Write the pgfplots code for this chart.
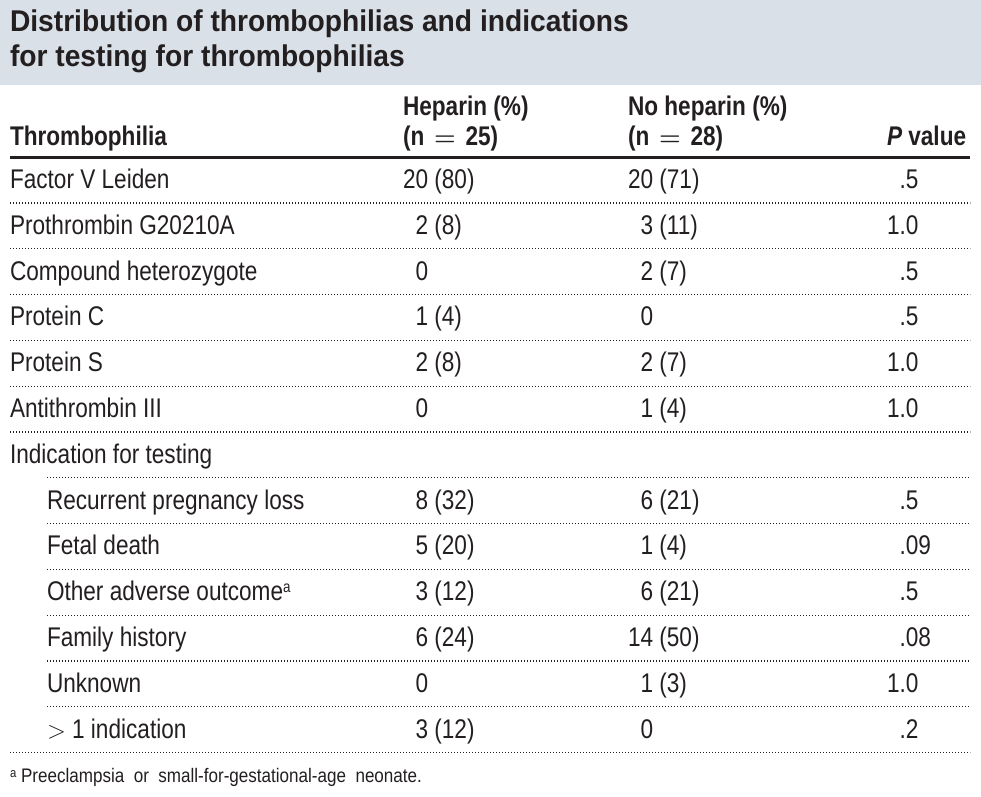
\documentclass[border=0pt]{standalone}
\usepackage{fontspec}
\setmainfont{Liberation Sans}[FakeStretch=0.837]
\newfontfamily\titlefont{Liberation Sans}[FakeStretch=0.94]
\newfontfamily\footfont{Liberation Sans}[FakeStretch=0.87]
\usepackage{pgfplots}
\pgfplotsset{compat=1.18}
\definecolor{band}{RGB}{217,224,231}
\definecolor{ink}{RGB}{35,31,32}
\tikzset{
  cell/.style={anchor=base west, inner sep=0pt, outer sep=0pt, text=ink, font=\fontsize{27bp}{30bp}\selectfont},
  head/.style={cell, font=\fontsize{27bp}{30bp}\selectfont\bfseries},
  ttl/.style={cell, font=\titlefont\fontsize{30bp}{36bp}\selectfont\bfseries},
  foot/.style={cell, font=\footfont\fontsize{19.6bp}{22bp}\selectfont},
  dots/.style={ink, line width=1.3bp, dash pattern=on 1.3bp off 1.7bp},
}
\newcommand{\z}{\hphantom{0}}
\newcommand{\eq}{\hspace{3.5bp} {\boldmath$=$} \hspace{3.5bp}}
\begin{document}
\begin{tikzpicture}
\begin{axis}[width=981bp, height=797bp, scale only axis, hide axis,
  xmin=0, xmax=981, ymin=0, ymax=797, y dir=reverse, clip=false]
% frame for bounding box
\addplot[draw=none] coordinates {(0,0) (981,797)};
% title band
\addplot[draw=none, fill=band] coordinates {(0,0) (981,0) (981,85) (0,85)} --cycle;
\node[ttl] at (axis cs:10,32) {Distribution of thrombophilias and indications};
\node[ttl] at (axis cs:10,67) {for testing for thrombophilias};
% header
\node[head] at (axis cs:10,145.5) {Thrombophilia};
\node[head] at (axis cs:403,115.5) {Heparin (\%)};
\node[head] at (axis cs:403,145.5) {(n\eq25)};
\node[head] at (axis cs:628,115.5) {No heparin (\%)};
\node[head] at (axis cs:628,145.5) {(n\eq28)};
\node[head] at (axis cs:887,145.5) {\itshape P\upshape\ value};
\addplot[ink, line width=3bp] coordinates {(10,158) (970,158)};
% rows
\node[cell] at (axis cs:10,188.4)  {Factor V Leiden};
\node[cell] at (axis cs:403,188.4) {20 (80)};
\node[cell] at (axis cs:628,188.4) {20 (71)};
\node[cell] at (axis cs:887,188.4) {\hphantom{1}.5};
\addplot[dots] coordinates {(10,203) (970,203)};

\node[cell] at (axis cs:10,234.2)  {Prothrombin G20210A};
\node[cell] at (axis cs:403,234.2) {\z2 (8)};
\node[cell] at (axis cs:628,234.2) {\z3 (11)};
\node[cell] at (axis cs:887,234.2) {1.0};
\addplot[dots] coordinates {(10,248.8) (970,248.8)};

\node[cell] at (axis cs:10,280)  {Compound heterozygote};
\node[cell] at (axis cs:403,280) {\z0};
\node[cell] at (axis cs:628,280) {\z2 (7)};
\node[cell] at (axis cs:887,280) {\hphantom{1}.5};
\addplot[dots] coordinates {(10,294.6) (970,294.6)};

\node[cell] at (axis cs:10,325.8)  {Protein C};
\node[cell] at (axis cs:403,325.8) {\z1 (4)};
\node[cell] at (axis cs:628,325.8) {\z0};
\node[cell] at (axis cs:887,325.8) {\hphantom{1}.5};
\addplot[dots] coordinates {(10,340.4) (970,340.4)};

\node[cell] at (axis cs:10,371.6)  {Protein S};
\node[cell] at (axis cs:403,371.6) {\z2 (8)};
\node[cell] at (axis cs:628,371.6) {\z2 (7)};
\node[cell] at (axis cs:887,371.6) {1.0};
\addplot[dots] coordinates {(10,386.2) (970,386.2)};

\node[cell] at (axis cs:10,417.4)  {Antithrombin III};
\node[cell] at (axis cs:403,417.4) {\z0};
\node[cell] at (axis cs:628,417.4) {\z1 (4)};
\node[cell] at (axis cs:887,417.4) {1.0};
\addplot[dots] coordinates {(10,432) (970,432)};

\node[cell] at (axis cs:10,463.2)  {Indication for testing};
\addplot[dots] coordinates {(47,477.8) (970,477.8)};

\node[cell] at (axis cs:47,509)  {Recurrent pregnancy loss};
\node[cell] at (axis cs:403,509) {\z8 (32)};
\node[cell] at (axis cs:628,509) {\z6 (21)};
\node[cell] at (axis cs:887,509) {\hphantom{1}.5};
\addplot[dots] coordinates {(47,523.6) (970,523.6)};

\node[cell] at (axis cs:47,554.8)  {Fetal death};
\node[cell] at (axis cs:403,554.8) {\z5 (20)};
\node[cell] at (axis cs:628,554.8) {\z1 (4)};
\node[cell] at (axis cs:887,554.8) {\hphantom{1}.09};
\addplot[dots] coordinates {(47,569.4) (970,569.4)};

\node[cell] at (axis cs:47,600.6)  {Other adverse outcome\raisebox{8bp}{\fontsize{16bp}{18bp}\selectfont a}};
\node[cell] at (axis cs:403,600.6) {\z3 (12)};
\node[cell] at (axis cs:628,600.6) {\z6 (21)};
\node[cell] at (axis cs:887,600.6) {\hphantom{1}.5};
\addplot[dots] coordinates {(47,615.2) (970,615.2)};

\node[cell] at (axis cs:47,646.4)  {Family history};
\node[cell] at (axis cs:403,646.4) {\z6 (24)};
\node[cell] at (axis cs:628,646.4) {14 (50)};
\node[cell] at (axis cs:887,646.4) {\hphantom{1}.08};
\addplot[dots] coordinates {(47,661) (970,661)};

\node[cell] at (axis cs:47,692.2)  {Unknown};
\node[cell] at (axis cs:403,692.2) {\z0};
\node[cell] at (axis cs:628,692.2) {\z1 (3)};
\node[cell] at (axis cs:887,692.2) {1.0};
\addplot[dots] coordinates {(47,706.8) (970,706.8)};

\node[cell] at (axis cs:47,738)  {$>$ 1 indication};
\node[cell] at (axis cs:403,738) {\z3 (12)};
\node[cell] at (axis cs:628,738) {\z0};
\node[cell] at (axis cs:887,738) {\hphantom{1}.2};
\addplot[dots] coordinates {(10,752.6) (970,752.6)};

% footnote
\node[foot] at (axis cs:10,782) {\raisebox{5bp}{\fontsize{13bp}{14bp}\selectfont a}\ Preeclampsia\ \ or\ \ small-for-gestational-age\ \ neonate.};
\end{axis}
\end{tikzpicture}
\end{document}
